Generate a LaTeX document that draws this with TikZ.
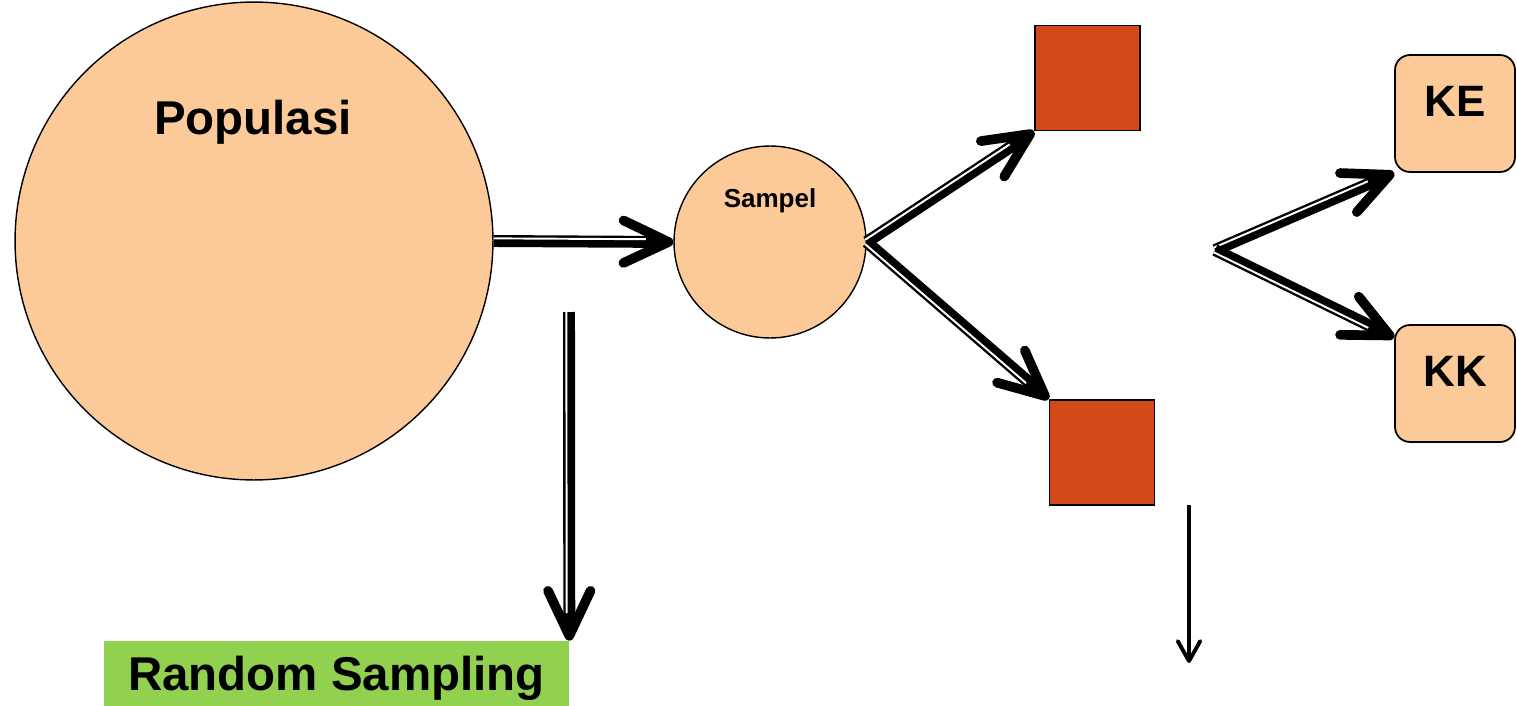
\documentclass[tikz,border=0pt]{standalone}
\usepackage{fontspec}
\setmainfont{Liberation Sans}
\usetikzlibrary{arrows.meta}
\definecolor{peche}{RGB}{252,202,152}
\definecolor{brique}{RGB}{210,74,24}
\definecolor{herbe}{RGB}{146,208,80}

\begin{document}
\begin{tikzpicture}[x=0.02cm,y=-0.02cm,
    rond/.style={circle,draw,line width=0.8pt,fill=peche,inner sep=0pt},
    carre/.style={rectangle,draw,line width=1pt,fill=brique,minimum size=2.1cm,inner sep=0pt},
    boite/.style={rectangle,rounded corners=0.3cm,draw,line width=1pt,fill=peche,
      minimum width=2.4cm,minimum height=2.34cm,text depth=0.5cm,
      font=\fontsize{25}{30}\selectfont\bfseries},
    fleche/.style={line width=6.8pt,
      -{Straight Barb[length=0.9cm,width=0.85cm,line width=5.5pt,round]},
      postaction={draw=white,line width=1.1pt,-,shorten >=0.55cm,
        transform canvas={shift={(#1:1.5pt)}}}},
    petite/.style={line width=2.8pt,
      -{Straight Barb[length=0.4cm,width=0.45cm,line width=2.2pt,round]}}]
  % dimensions (1 unite = 1 pixel)
  \def\grand{9.56cm} % diametre de la population
  \def\petit{3.84cm} % diametre de l'echantillon
  \useasboundingbox (0,0) rectangle (1517,706);

  % cercles
  \node[rond,minimum size=\grand] (pop) at (254,241) {};
  \node[font=\fontsize{27}{32}\selectfont\bfseries] (poptxt) at (253,122) {Populasi};
  \node[rond,minimum size=\petit] (sam) at (770,242) {};
  \node[font=\fontsize{14.8}{18}\selectfont\bfseries] (samtxt) at (770,201) {Sampel};

  % carres et boites
  \node[carre] (haut) at (1087.5,78) {};
  \node[carre] (bas) at (1102,452.5) {};
  \node[boite] (ke) at (1455,113.5) {KE};
  \node[boite] (kk) at (1455,383.5) {KK};
  \node[fill=herbe,minimum width=9.3cm,minimum height=1.3cm,text depth=0pt,
    font=\fontsize{27}{32}\selectfont\bfseries] (rs) at (336.5,673.5) {Random Sampling};

  % extremites libres
  \coordinate (fourche) at (1215,250);
  \coordinate (rsdebut) at (569,312);
  \coordinate (petitdebut) at (1189,505);
  \coordinate (petitfin) at (1189,663);

  % fleches
  \draw[fleche=90] (pop.east) -- (sam.west);
  \draw[fleche=123] (sam.east) -- (haut.south west);
  \draw[fleche=-131] (sam.east) -- (bas.north west);
  \draw[fleche=113] (fourche) -- (ke.south west);
  \draw[fleche=-116] (fourche) -- (kk.143);
  \draw[fleche=180] (rsdebut) -- (rs.north east);
  \draw[petite] (petitdebut) -- (petitfin);
\end{tikzpicture}
\end{document}
